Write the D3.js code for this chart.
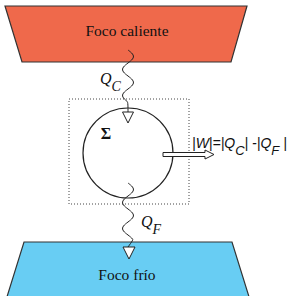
<!DOCTYPE html>
<html>
<head>
<meta charset="utf-8">
<title>Motor térmico</title>
<script src="https://cdn.jsdelivr.net/npm/d3@7"></script>
<style>
body { margin: 0; background: #fff; }
#area_svg { width: 291px; height: 296px; display: block; }
.serif { font-family: 'Liberation Serif', 'Times New Roman', Times, serif; }
.sans { font-family: 'Liberation Sans', Arial, Helvetica, sans-serif; }
</style>
<script>
// labels of the diagram
var reservoirs = ['Foco caliente', 'Foco frío'];
var reservoirColors = ['#ef694b', '#68cdf3'];
var heatLabels = [['Q', 'C'], ['Q', 'F']];
var systemLabel = 'Σ';
var workParts = [['|W|=|Q', ''], ['C', 'sub'], ['| -|Q', ''], ['F', 'sub'], [' |', '']];

// draws a wavy line going down from y0 to y1 around x = cx
var wave = function(g, cx, y0, y1, tipY) {
  var pts = d3.range(y0, y1 + 0.5, 1).map(function(y) {
    return [cx + 5.5 * Math.sin(2 * Math.PI * (y - y0) / 26), y];
  });
  pts.push([cx, tipY]);
  g.append('path')
    .attr('d', d3.line().curve(d3.curveBasis)(pts))
    .attr('fill', 'none').attr('stroke', '#222').attr('stroke-width', 1);
}

var arrowHead = function(g, cx, top, h, w) {
  g.append('path')
    .attr('d', 'M' + (cx - w / 2) + ',' + top + 'L' + (cx + w / 2) + ',' + top + 'L' + cx + ',' + (top + h) + 'Z')
    .attr('fill', '#fff').attr('stroke', '#222').attr('stroke-width', 1);
}

var genDiagram = function() {
  var svg = d3.select('svg');

  // reservoirs (trapezoids)
  var traps = [
    [[5, 6], [247, 6], [231, 62], [22, 62]],
    [[24, 242], [232, 242], [250, 300], [6, 300]]
  ];
  svg.selectAll('polygon.res').data(traps).enter()
    .append('polygon').attr('class', 'res')
    .attr('points', function(d) { return d.map(function(p) { return p.join(','); }).join(' '); })
    .attr('fill', function(d, i) { return reservoirColors[i]; })
    .attr('stroke', '#333').attr('stroke-width', 1.2);

  svg.selectAll('text.res').data(reservoirs).enter()
    .append('text').attr('class', 'res serif')
    .attr('x', 127).attr('y', function(d, i) { return i === 0 ? 36 : 280; })
    .attr('text-anchor', 'middle')
    .attr('font-size', 15.5).attr('fill', '#111')
    .text(function(d) { return d; });

  // dotted system boundary
  svg.append('rect')
    .attr('x', 69).attr('y', 99).attr('width', 120).attr('height', 105)
    .attr('fill', 'none').attr('stroke', '#444').attr('stroke-width', 1)
    .attr('stroke-dasharray', '1,2');

  // cycle
  svg.append('circle').attr('cx', 128).attr('cy', 153).attr('r', 45)
    .attr('fill', 'none').attr('stroke', '#222').attr('stroke-width', 1.2);

  // heat flows
  wave(svg, 128, 50, 102, 112);
  arrowHead(svg, 128, 112, 11, 11);
  wave(svg, 128, 183, 240, 247);
  arrowHead(svg, 129, 247, 12, 12);

  // heat labels
  var qpos = [[100, 84], [141, 227]];
  heatLabels.forEach(function(l, i) {
    var t = svg.append('text').attr('class', 'serif')
      .attr('x', qpos[i][0]).attr('y', qpos[i][1])
      .attr('font-style', 'italic').attr('font-size', 16).attr('fill', '#111');
    t.append('tspan').text(l[0]);
    t.append('tspan').attr('dy', 7).attr('font-size', 14).text(l[1]);
  });

  // system symbol
  svg.append('text').attr('class', 'serif')
    .attr('x', 106).attr('y', 139).attr('text-anchor', 'middle')
    .attr('font-weight', 'bold').attr('font-size', 16).attr('fill', '#111')
    .text(systemLabel);

  // work arrow (hollow)
  svg.append('path')
    .attr('d', 'M163,152.5L205,152.5L205,150L214,154.5L205,159L205,156.5L163,156.5Z')
    .attr('fill', '#fff').attr('stroke', '#222').attr('stroke-width', 1);

  var wt = svg.append('text').attr('class', 'sans').attr('x', 192).attr('y', 148)
    .attr('font-style', 'italic').attr('font-size', 14).attr('fill', '#111');
  workParts.forEach(function(p, i) {
    var s = wt.append('tspan').text(p[0]);
    if (p[1] === 'sub') s.attr('dy', 7).attr('font-size', 13);
    else if (i > 0) s.attr('dy', -7);
  });
}

window.onload = function() {
  genDiagram();
}
</script>
</head>
<body>
<svg id="area_svg"></svg>
</body>
</html>
